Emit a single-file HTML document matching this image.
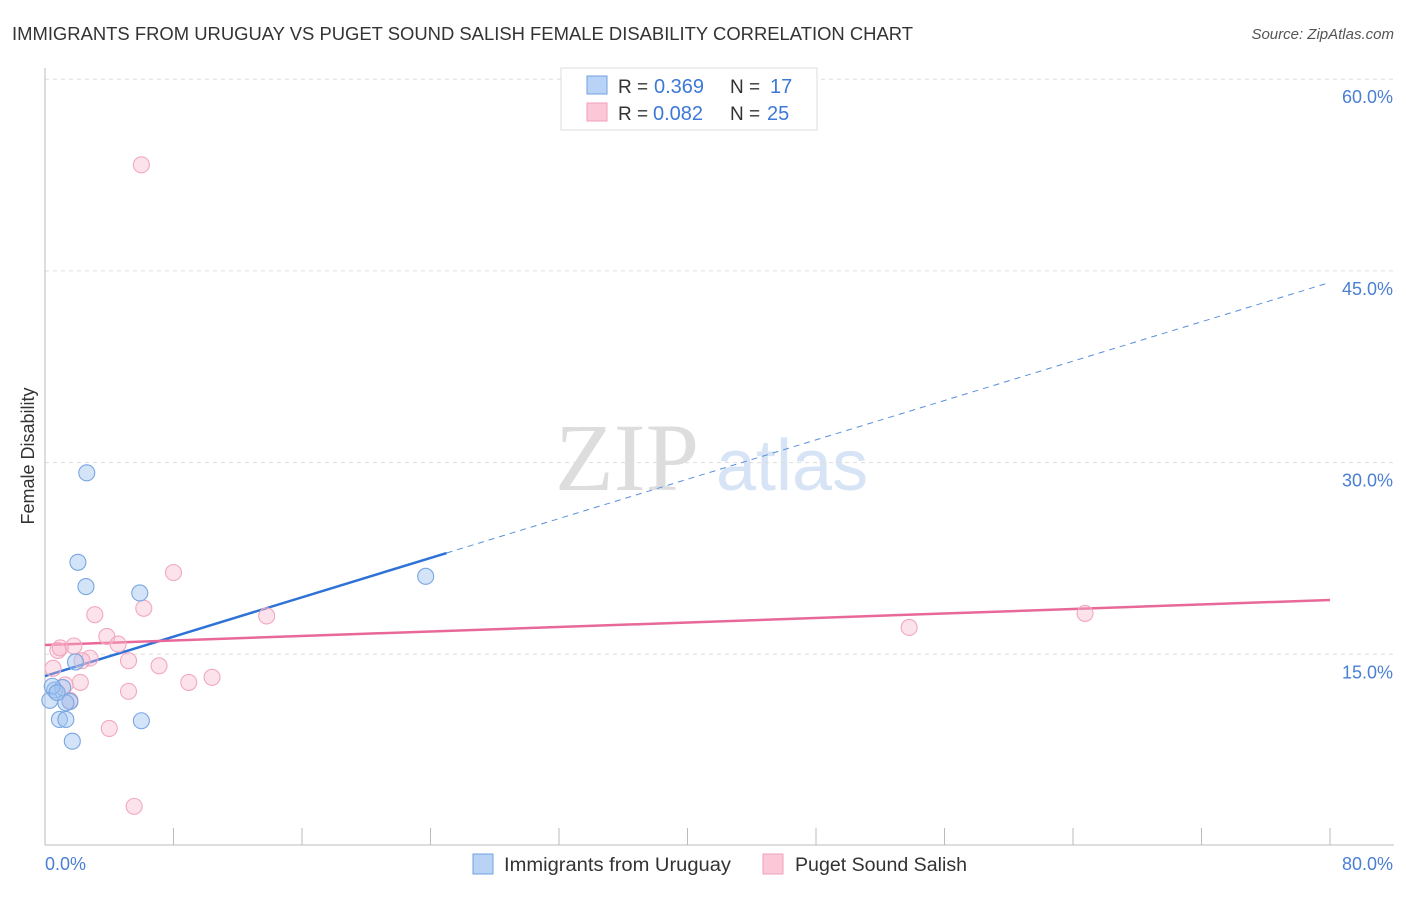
<!DOCTYPE html>
<html><head><meta charset="utf-8"><style>
body{margin:0;background:#fff;font-family:"Liberation Sans",sans-serif;}
</style></head><body>
<svg width="1406" height="892" viewBox="0 0 1406 892" xmlns="http://www.w3.org/2000/svg" font-family="Liberation Sans, sans-serif">
<text x="12" y="40" font-size="18" fill="#333" textLength="901" lengthAdjust="spacingAndGlyphs">IMMIGRANTS FROM URUGUAY VS PUGET SOUND SALISH FEMALE DISABILITY CORRELATION CHART</text>
<text x="1394" y="39" font-size="15" fill="#555" text-anchor="end" font-style="italic">Source: ZipAtlas.com</text>
<text x="555" y="490" font-size="96" fill="#ddd" font-family="Liberation Serif, serif">ZIP</text>
<text x="716" y="490" font-size="72" fill="#d6e4f5">atlas</text>
<g id="grid"></g>
<line x1="45" y1="68" x2="45" y2="845" stroke="#bbb"/>
<line x1="45" y1="845" x2="1394" y2="845" stroke="#bbb"/>
<g id="xticks"></g>
<text transform="translate(34,456) rotate(-90)" font-size="18" fill="#333" text-anchor="middle">Female Disability</text>
<text x="45" y="870" font-size="18" fill="#4a7fd4">0.0%</text>
<text x="1393" y="870" font-size="18" fill="#4a7fd4" text-anchor="end">80.0%</text>
<g id="lines"></g>
<g id="pts"></g>
<g>
<rect x="561" y="68" width="256" height="62" fill="#fff" stroke="#ddd"/>
<rect x="587" y="76" width="20" height="18" fill="#b8d3f5" stroke="#6fa0e0"/>
<rect x="587" y="103" width="20" height="18" fill="#fac8d6" stroke="#f0a0b8"/>
<text x="618" y="93" font-size="19" fill="#333">R =</text>
<text x="654" y="93" font-size="20" fill="#3d78d8">0.369</text>
<text x="730" y="93" font-size="19" fill="#333">N =</text>
<text x="770" y="93" font-size="20" fill="#3d78d8">17</text>
<text x="618" y="120" font-size="19" fill="#333">R =</text>
<text x="653" y="120" font-size="20" fill="#3d78d8">0.082</text>
<text x="730" y="120" font-size="19" fill="#333">N =</text>
<text x="767" y="120" font-size="20" fill="#3d78d8">25</text>
</g>
<g>
<rect x="473" y="854" width="20" height="20" fill="#b8d3f5" stroke="#6fa0e0"/>
<text x="504" y="871" font-size="19" fill="#333" textLength="227" lengthAdjust="spacingAndGlyphs">Immigrants from Uruguay</text>
<rect x="763" y="854" width="20" height="20" fill="#fac8d6" stroke="#f0a0b8"/>
<text x="795" y="871" font-size="19" fill="#333" textLength="172" lengthAdjust="spacingAndGlyphs">Puget Sound Salish</text>
</g>
</svg>
<script>
const yTicks=[15,30,45,60];
const yTickLabels=["15.0%","30.0%","45.0%","60.0%"];
const xTickVals=[0,8,16,24,32,40,48,56,64,72,80];
const blueX=[2.6,2.05,2.55,5.9,23.7,1.9,0.6,0.3,1.1,1.55,1.3,0.9,1.3,1.7,6.0,0.45,0.75];
const blueY=[29.2,22.2,20.3,19.8,21.1,14.4,12.2,11.4,12.4,11.3,11.2,9.9,9.9,8.2,9.8,12.5,12.0];
const pinkX=[6.0,8.0,3.1,6.15,13.8,53.8,64.75,3.85,4.55,1.8,0.8,2.8,2.3,5.2,7.1,0.5,2.2,1.25,8.95,10.4,5.2,4.0,5.55,1.55,0.95];
const pinkY=[53.3,21.4,18.1,18.6,18.0,17.1,18.2,16.4,15.8,15.65,15.3,14.7,14.5,14.5,14.1,13.9,12.8,12.6,12.8,13.2,12.1,9.2,3.1,11.4,15.5];
const blueLine=[13.3,44.1]; const blueSolidEnd=25.0;
const pinkLine=[15.73,19.25];
const NS="http://www.w3.org/2000/svg";
const X=v=>45+v/80*1285, Y=v=>846-v/15*191.7;
function mk(t,a,p){const e=document.createElementNS(NS,t);for(const k in a)e.setAttribute(k,a[k]);document.getElementById(p).appendChild(e);return e;}
yTicks.forEach((t,i)=>{
 const l=mk('line',{x1:45,x2:1394,y1:Y(t),y2:Y(t),stroke:'#ddd','stroke-dasharray':'4,4'},'grid');
 
 
 const tx=mk('text',{x:1393,y:Y(t)+24,'font-size':18,fill:'#4a7fd4','text-anchor':'end'},'grid');
 tx.textContent=yTickLabels[i];
 
 
});
xTickVals.forEach(v=>{
 const l=mk('line',{x1:X(v),x2:X(v),y1:828,y2:845,stroke:'#bbb'},'xticks');
 
 
});
function seg(x0,x1,a,b,attrs,name){const f=x=>a+(b-a)*x/80;const l=mk('line',Object.assign({x1:X(x0),x2:X(x1),y1:Y(f(x0)),y2:Y(f(x1))},attrs),'lines');
 
 }
seg(0,blueSolidEnd,blueLine[0],blueLine[1],{stroke:'#2e72d8','stroke-width':2.5},'blue-trend-line');
seg(blueSolidEnd,80,blueLine[0],blueLine[1],{stroke:'#5a8fdc','stroke-width':1,'stroke-dasharray':'6,5'},'blue-trend-extension');
seg(0,80,pinkLine[0],pinkLine[1],{stroke:'#e8689a','stroke-width':2.5},'pink-trend-line');
pinkX.forEach((x,i)=>{const c=mk('circle',{cx:X(x),cy:Y(pinkY[i]),r:8,fill:'rgba(248,182,202,0.38)',stroke:'#f2a8be','stroke-width':1.1},'pts');
 
 });
blueX.forEach((x,i)=>{const c=mk('circle',{cx:X(x),cy:Y(blueY[i]),r:8,fill:'rgba(160,196,240,0.45)',stroke:'#78a6e2','stroke-width':1.1},'pts');
 
 });
</script>
</body></html>
